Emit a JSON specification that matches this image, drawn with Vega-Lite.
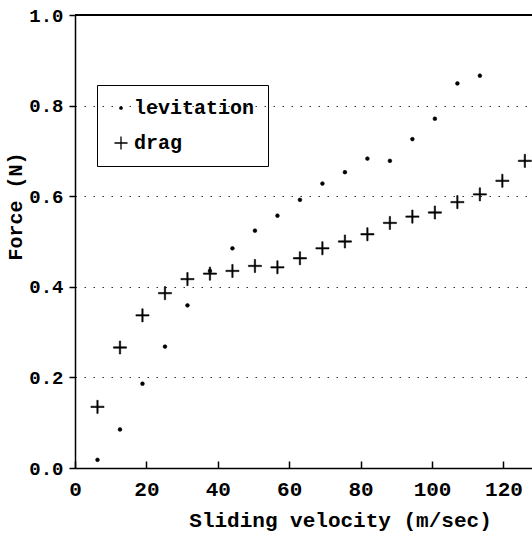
{
  "$schema": "https://vega.github.io/schema/vega-lite/v6.json",
  "width": 457,
  "height": 453,
  "autosize": {"type": "none"},
  "padding": {"left": 75, "top": 15, "right": 0, "bottom": 69},
  "background": "white",
  "config": {
    "view": {"stroke": null},
    "font": "Liberation Mono",
    "axis": {
      "labelFont": "Liberation Mono",
      "labelFontSize": 21,
      "labelFontWeight": "bold",
      "labelColor": "black",
      "labelFlush": false,
      "titleFont": "Liberation Mono",
      "titleFontSize": 21,
      "titleFontWeight": "bold",
      "titleColor": "black",
      "domainColor": "black",
      "domainWidth": 1.5,
      "ticks": true,
      "tickColor": "black",
      "tickWidth": 1.5
    },
    "axisY": {
      "labelFontSize": 19,
      "titleFontSize": 20,
      "gridColor": "#333",
      "gridDash": [1.5, 7.5],
      "gridWidth": 1.2
    }
  },
  "data": {
    "values": [
      {"v": 6.3, "f": 0.018, "s": "levitation"},
      {"v": 12.6, "f": 0.085, "s": "levitation"},
      {"v": 18.9, "f": 0.186, "s": "levitation"},
      {"v": 25.2, "f": 0.268, "s": "levitation"},
      {"v": 31.5, "f": 0.359, "s": "levitation"},
      {"v": 37.8, "f": 0.435, "s": "levitation"},
      {"v": 44.1, "f": 0.485, "s": "levitation"},
      {"v": 50.4, "f": 0.524, "s": "levitation"},
      {"v": 56.7, "f": 0.557, "s": "levitation"},
      {"v": 63.0, "f": 0.592, "s": "levitation"},
      {"v": 69.3, "f": 0.628, "s": "levitation"},
      {"v": 75.6, "f": 0.653, "s": "levitation"},
      {"v": 81.9, "f": 0.683, "s": "levitation"},
      {"v": 88.2, "f": 0.678, "s": "levitation"},
      {"v": 94.5, "f": 0.726, "s": "levitation"},
      {"v": 100.8, "f": 0.771, "s": "levitation"},
      {"v": 107.1, "f": 0.849, "s": "levitation"},
      {"v": 113.4, "f": 0.866, "s": "levitation"},
      {"v": 6.3, "f": 0.135, "s": "drag"},
      {"v": 12.6, "f": 0.266, "s": "drag"},
      {"v": 18.9, "f": 0.337, "s": "drag"},
      {"v": 25.2, "f": 0.386, "s": "drag"},
      {"v": 31.5, "f": 0.417, "s": "drag"},
      {"v": 37.8, "f": 0.429, "s": "drag"},
      {"v": 44.1, "f": 0.435, "s": "drag"},
      {"v": 50.4, "f": 0.446, "s": "drag"},
      {"v": 56.7, "f": 0.443, "s": "drag"},
      {"v": 63.0, "f": 0.463, "s": "drag"},
      {"v": 69.3, "f": 0.485, "s": "drag"},
      {"v": 75.6, "f": 0.500, "s": "drag"},
      {"v": 81.9, "f": 0.516, "s": "drag"},
      {"v": 88.2, "f": 0.541, "s": "drag"},
      {"v": 94.5, "f": 0.555, "s": "drag"},
      {"v": 100.8, "f": 0.564, "s": "drag"},
      {"v": 107.1, "f": 0.587, "s": "drag"},
      {"v": 113.4, "f": 0.604, "s": "drag"},
      {"v": 119.7, "f": 0.634, "s": "drag"},
      {"v": 126.0, "f": 0.678, "s": "drag"}
    ]
  },
  "layer": [
    {
      "mark": {"type": "point", "filled": true, "color": "black", "stroke": "black", "strokeWidth": 0.6, "size": 14, "opacity": 1},
      "encoding": {
        "x": {
          "field": "v", "type": "quantitative",
          "scale": {"domain": [0, 128], "nice": false, "zero": false},
          "axis": {
            "values": [0, 20, 40, 60, 80, 100, 120],
            "title": "Sliding velocity (m/sec)",
            "tickSize": -7,
            "labelPadding": 17,
            "titlePadding": 10,
            "titleX": 265,
            "grid": false
          }
        },
        "y": {
          "field": "f", "type": "quantitative",
          "scale": {"domain": [0, 1], "nice": false},
          "axis": {
            "values": [0, 0.2, 0.4, 0.6, 0.8, 1.0],
            "format": ".1f",
            "title": "Force (N)",
            "tickSize": 6,
            "labelPadding": 6,
            "titleX": -60,
            "titleY": 191,
            "titleBaseline": "middle",
            "grid": true
          }
        },
        "shape": {
          "field": "s", "type": "nominal",
          "scale": {"domain": ["levitation", "drag"], "range": ["circle", "M-3.5,-0.35H3.5V0.35H-3.5ZM-0.35,-3.5H0.35V3.5H-0.35Z"]},
          "legend": {
            "title": null,
            "orient": "none",
            "legendX": 22,
            "legendY": 70,
            "strokeColor": "black",
            "padding": 13,
            "rowPadding": 15,
            "labelFont": "Liberation Mono",
            "labelFontSize": 20,
            "labelFontWeight": "bold",
            "labelColor": "black",
            "labelOffset": 3,
            "symbolOffset": 1,
            "symbolSize": 14,
            "symbolFillColor": "black",
            "symbolStrokeColor": "black",
            "symbolStrokeWidth": 0.6,
            "symbolOpacity": 1
          }
        }
      }
    },
    {
      "mark": {"type": "rule", "color": "black", "strokeWidth": 1.5},
      "encoding": {
        "y": {"datum": 1.0, "type": "quantitative"}
      }
    }
  ]
}
